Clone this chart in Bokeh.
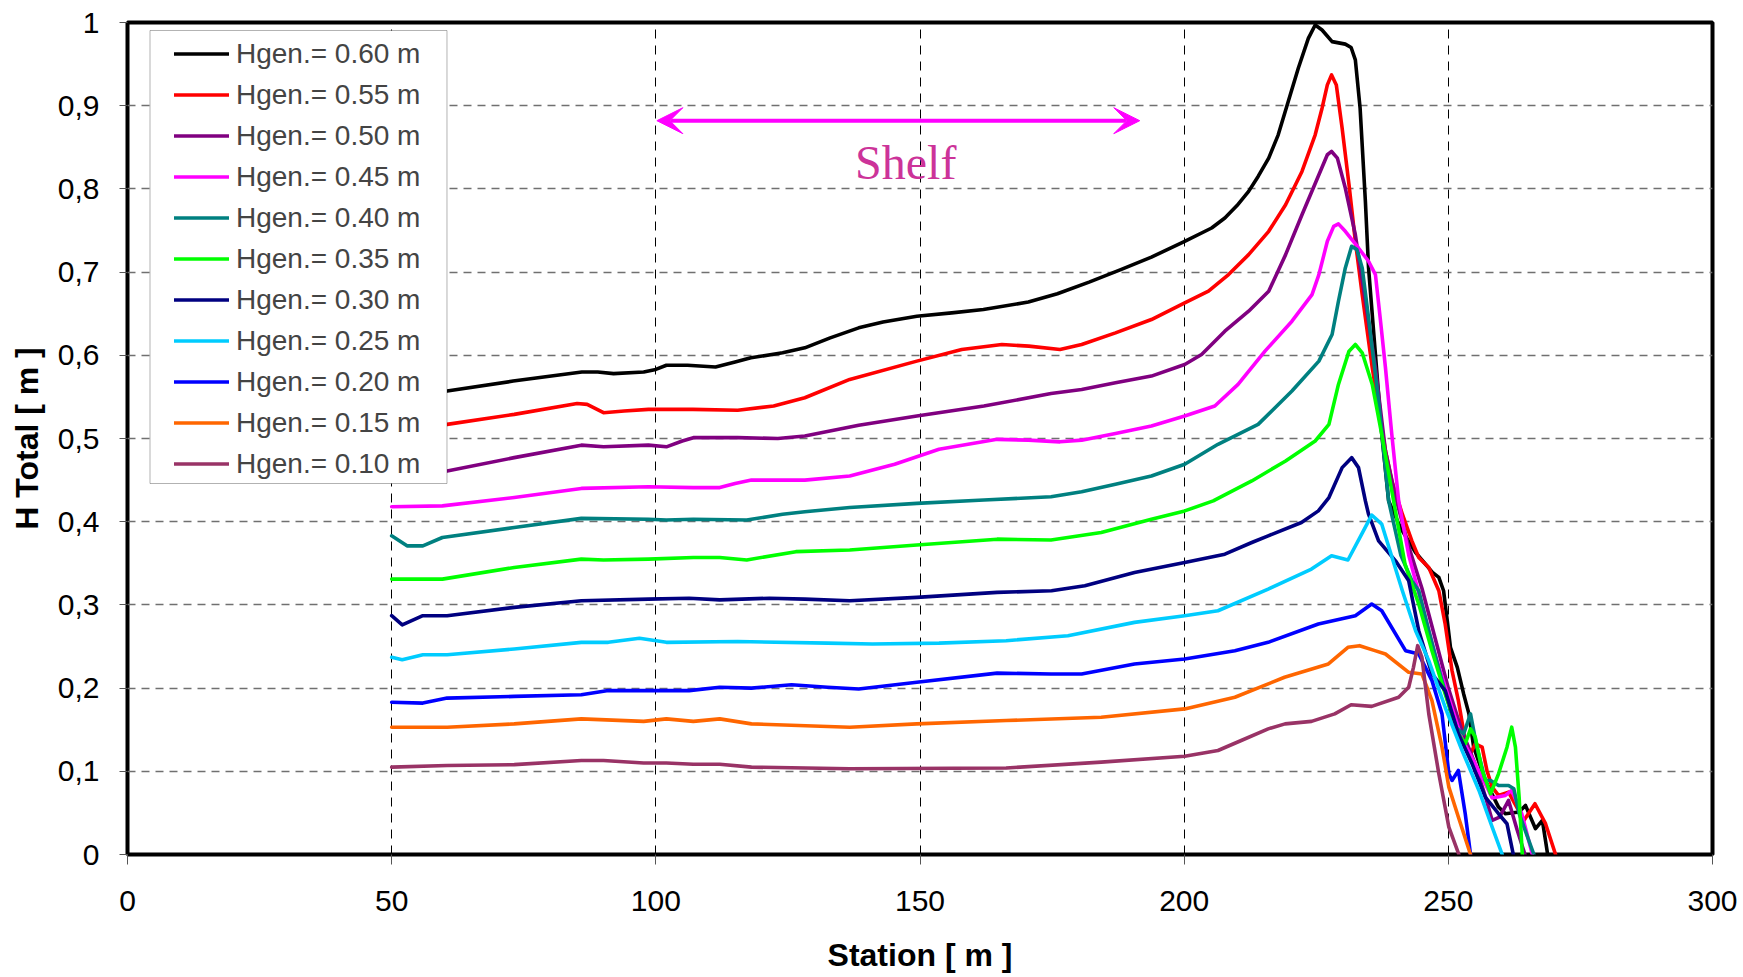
from bokeh.plotting import figure
from bokeh.models import (Range1d, FixedTicker, CustomJSTickFormatter, Legend, LegendItem,
                          Arrow, VeeHead, Label, BoxAnnotation)
from bokeh.embed import file_html
from bokeh.resources import INLINE

# ---- data: total wave height along the flume for each generated height ----
labels = ["Hgen.= 0.60 m", "Hgen.= 0.55 m", "Hgen.= 0.50 m", "Hgen.= 0.45 m",
          "Hgen.= 0.40 m", "Hgen.= 0.35 m", "Hgen.= 0.30 m", "Hgen.= 0.25 m",
          "Hgen.= 0.20 m", "Hgen.= 0.15 m", "Hgen.= 0.10 m"]
colors = ["#000000", "#FF0000", "#800080", "#FF00FF", "#008080", "#00FF00",
          "#000080", "#00CCFF", "#0000FF", "#FF6600", "#993366"]

st_060 = [50, 55, 60.5, 73, 86, 89, 92, 97.7, 100, 102, 106, 111.3, 115, 118, 124, 128.2, 133, 138.4,
          143, 149.4, 156, 162, 170.5, 176, 182, 188, 193.8, 200.1, 205.2, 207.7, 210, 212.2, 214, 216,
          217.8, 219.7, 221.6, 223.5, 224.8, 226.1, 228, 230.5, 231.6, 232.4, 233.3, 234.3, 234.9,
          235.9, 237.4, 238.7, 241, 243.8, 247, 248.2, 249.1, 249.8, 250.4, 251.7, 252.9, 253.9, 254.8,
          257, 259.5, 260.8, 263.4, 264.6, 266.5, 267.8, 268.8]
h_060 = [0.549, 0.553, 0.557, 0.569, 0.580, 0.580, 0.578, 0.580, 0.583, 0.588, 0.588, 0.586, 0.592,
         0.597, 0.603, 0.609, 0.621, 0.633, 0.640, 0.647, 0.651, 0.655, 0.664, 0.674, 0.688, 0.703,
         0.718, 0.737, 0.753, 0.765, 0.780, 0.797, 0.815, 0.837, 0.865, 0.905, 0.945, 0.981, 0.997,
         0.991, 0.977, 0.974, 0.970, 0.955, 0.897, 0.785, 0.705, 0.625, 0.505, 0.425, 0.392, 0.363,
         0.339, 0.333, 0.317, 0.281, 0.249, 0.225, 0.193, 0.169, 0.129, 0.089, 0.057, 0.049, 0.051,
         0.059, 0.031, 0.041, 0.0]

st_055 = [50, 55, 60.5, 73.2, 85.1, 87, 90.1, 94, 98.6, 107, 115.5, 122.3, 128.2, 136.7, 149.4, 157.9,
          165.5, 170.6, 176.5, 180.6, 187, 193.8, 200.1, 204.6, 208.4, 212.2, 216, 219.2, 222.3, 224.8,
          226.1, 227.1, 227.9, 228.8, 229.9, 231.2, 232.4, 233.7, 235.6, 238.1, 239.3, 241.3, 243.1,
          244.4, 246.3, 248.2, 249.4, 250.7, 251.9, 253.2, 254.2, 255.1, 256.4, 257.3, 258.3, 259.5,
          261.4, 264.3, 266.4, 268.4, 270.3]
h_055 = [0.508, 0.512, 0.517, 0.529, 0.542, 0.541, 0.531, 0.533, 0.535, 0.535, 0.534, 0.539, 0.549,
         0.571, 0.593, 0.607, 0.613, 0.611, 0.607, 0.613, 0.627, 0.643, 0.663, 0.677, 0.697, 0.721,
         0.749, 0.781, 0.821, 0.865, 0.897, 0.925, 0.937, 0.925, 0.873, 0.805, 0.737, 0.673, 0.585,
         0.485, 0.449, 0.409, 0.377, 0.357, 0.345, 0.317, 0.277, 0.221, 0.185, 0.137, 0.121, 0.133,
         0.129, 0.101, 0.081, 0.071, 0.075, 0.041, 0.061, 0.037, 0.0]

st_050 = [50, 55, 60.5, 73.2, 85.9, 90.1, 98.6, 102, 105, 107.1, 115.5, 123.1, 128.2, 138.4, 149.4,
          162.1, 174.8, 180.6, 187, 193.8, 200.1, 203.3, 207.7, 212.2, 216, 219.2, 222.3, 225.5, 227.1,
          227.9, 229, 230.5, 232.4, 234.3, 236.2, 238.1, 240, 242.5, 245, 247.5, 250, 252.5, 255, 257,
          258.3, 259.7, 261.4, 263, 264.5]
h_050 = [0.457, 0.458, 0.461, 0.477, 0.492, 0.490, 0.492, 0.490, 0.497, 0.501, 0.501, 0.500, 0.503,
         0.516, 0.527, 0.539, 0.554, 0.559, 0.567, 0.575, 0.589, 0.601, 0.629, 0.653, 0.677, 0.721,
         0.769, 0.817, 0.841, 0.845, 0.837, 0.801, 0.745, 0.665, 0.585, 0.485, 0.430, 0.370, 0.320,
         0.260, 0.200, 0.150, 0.110, 0.070, 0.041, 0.045, 0.065, 0.030, 0.0]

st_045 = [50, 59.6, 73.2, 85.9, 98.6, 107.1, 112.1, 115, 118.1, 128.2, 136.7, 145.2, 153.6, 164.6,
          170.5, 176.5, 180.6, 187, 193.8, 200.1, 205.8, 210.2, 215.3, 220.4, 224.2, 225.5, 227.1,
          228.3, 229.2, 230.5, 233, 234.9, 236.2, 237.1, 238.1, 239.3, 240.6, 242.5, 245, 247.5, 250,
          252.5, 255, 257, 258.3, 260.8, 262, 263.9, 265.9]
h_045 = [0.418, 0.419, 0.429, 0.440, 0.442, 0.441, 0.441, 0.446, 0.450, 0.450, 0.455, 0.469, 0.487,
         0.499, 0.498, 0.496, 0.498, 0.506, 0.515, 0.527, 0.539, 0.565, 0.605, 0.641, 0.673, 0.697,
         0.737, 0.755, 0.758, 0.749, 0.729, 0.713, 0.697, 0.645, 0.585, 0.505, 0.425, 0.360, 0.300,
         0.240, 0.190, 0.140, 0.110, 0.085, 0.068, 0.071, 0.077, 0.049, 0.0]

st_040 = [50, 52.9, 55.9, 59.6, 73.2, 85.9, 98.6, 102, 107.1, 117.2, 124, 128.2, 136.7, 149.4, 162.1,
          174.8, 180.6, 187, 193.8, 200.1, 206.4, 214, 220.4, 225.5, 228, 229.2, 230.5, 231.7, 232.7,
          233.7, 234.9, 236.8, 238.7, 241, 243.1, 244.4, 246.3, 248.8, 251.3, 252.9, 254.2, 255.4, 257,
          258, 259.5, 261.4, 262.4, 263.4, 266.2]
h_040 = [0.383, 0.371, 0.371, 0.381, 0.393, 0.404, 0.403, 0.402, 0.403, 0.402, 0.409, 0.412, 0.417,
         0.422, 0.426, 0.430, 0.436, 0.445, 0.455, 0.469, 0.493, 0.517, 0.557, 0.593, 0.625, 0.665,
         0.705, 0.731, 0.727, 0.705, 0.645, 0.545, 0.425, 0.360, 0.329, 0.317, 0.269, 0.209, 0.153,
         0.145, 0.169, 0.129, 0.089, 0.089, 0.083, 0.083, 0.079, 0.049, 0.0]

st_035 = [50, 59.6, 73.2, 85.9, 90.1, 98.6, 107.1, 112.1, 117.2, 126.5, 136.7, 149.4, 164.6, 174.8,
          184.3, 193.8, 200.1, 205.5, 212.8, 219.2, 224.8, 227.4, 229.2, 231.2, 232.4, 233.7, 235.6,
          237.4, 239.3, 241.8, 244.4, 246.9, 249.4, 251.9, 253.2, 254.2, 255.1, 256.4, 258, 259.5,
          261.1, 262, 262.7, 263.4, 264]
h_035 = [0.331, 0.331, 0.345, 0.355, 0.354, 0.355, 0.357, 0.357, 0.354, 0.364, 0.366, 0.372, 0.379,
         0.378, 0.387, 0.403, 0.413, 0.425, 0.449, 0.473, 0.497, 0.517, 0.565, 0.605, 0.613, 0.603,
         0.565, 0.505, 0.437, 0.349, 0.301, 0.245, 0.193, 0.145, 0.133, 0.151, 0.141, 0.101, 0.073,
         0.097, 0.129, 0.153, 0.129, 0.069, 0.0]

st_030 = [50, 52, 55.9, 60.5, 73.2, 85.9, 98.6, 106.3, 112.1, 121.5, 128.2, 136.7, 149.4, 164.6,
          174.9, 181.2, 190.6, 200.1, 207.7, 212.8, 215.9, 222.2, 225.4, 227.4, 229.9, 231.7, 233,
          234.3, 234.9, 236.8, 240, 242.5, 244.4, 246.9, 249.4, 251.9, 254.5, 257, 259.5, 261.1, 262.3]
h_030 = [0.287, 0.276, 0.287, 0.287, 0.297, 0.305, 0.307, 0.308, 0.306, 0.308, 0.307, 0.305, 0.309,
         0.315, 0.317, 0.323, 0.339, 0.351, 0.361, 0.375, 0.383, 0.399, 0.413, 0.429, 0.465, 0.477,
         0.465, 0.425, 0.409, 0.377, 0.353, 0.329, 0.269, 0.217, 0.197, 0.145, 0.109, 0.069, 0.049,
         0.037, 0.0]

st_025 = [50, 52, 55.9, 60.5, 73.2, 85.9, 91, 96.9, 102, 115.5, 132.5, 141, 153.6, 166.3, 178, 190.6,
          200.1, 206.4, 215.9, 224.1, 227.9, 231, 233.6, 235.5, 237.4, 241.3, 243.8, 246.3, 249.4,
          252.6, 255.8, 258.3, 260.2]
h_025 = [0.237, 0.234, 0.240, 0.240, 0.247, 0.255, 0.255, 0.260, 0.255, 0.256, 0.254, 0.253, 0.254,
         0.257, 0.263, 0.279, 0.287, 0.293, 0.319, 0.343, 0.359, 0.354, 0.385, 0.408, 0.397, 0.317,
         0.269, 0.233, 0.177, 0.125, 0.077, 0.033, 0.0]

st_020 = [50, 55.9, 60.5, 73.2, 85.9, 91, 106.3, 112.1, 118.1, 125.7, 132.5, 138.4, 149.4, 164.6,
          174.8, 180.6, 190.6, 200.1, 209.6, 215.9, 225.4, 232.4, 235.5, 237.4, 241.9, 244.4, 246.9,
          248.8, 250.1, 250.7, 251.9, 253.2, 254.2]
h_020 = [0.183, 0.182, 0.188, 0.190, 0.192, 0.197, 0.197, 0.201, 0.200, 0.204, 0.201, 0.199, 0.207,
         0.218, 0.217, 0.217, 0.229, 0.235, 0.245, 0.255, 0.277, 0.287, 0.301, 0.293, 0.245, 0.241,
         0.209, 0.169, 0.097, 0.089, 0.101, 0.049, 0.0]

st_015 = [50, 60.5, 73.2, 85.9, 97.7, 102, 107.1, 112.1, 118.1, 136.7, 149.4, 166.3, 184.3, 200.1,
          209.6, 219, 227.3, 231, 233.2, 236.1, 238.1, 242.5, 245, 246.9, 248.8, 250.1, 251.9, 254.2]
h_015 = [0.153, 0.153, 0.157, 0.163, 0.160, 0.163, 0.160, 0.163, 0.157, 0.153, 0.157, 0.161, 0.165,
         0.175, 0.189, 0.213, 0.229, 0.249, 0.251, 0.245, 0.241, 0.219, 0.217, 0.185, 0.129, 0.081,
         0.045, 0.0]

st_010 = [50, 60.5, 73.2, 85.9, 90.1, 97.7, 102, 107.1, 112.1, 118.1, 136.7, 166.3, 184.3, 200.1,
          206.4, 210.8, 215.9, 219.1, 224.1, 228.5, 231.6, 235.5, 240.6, 242.5, 243.4, 244.2, 245,
          246.3, 248.2, 250.1, 252]
h_010 = [0.105, 0.107, 0.108, 0.113, 0.113, 0.110, 0.110, 0.1085, 0.1085, 0.105, 0.103, 0.104, 0.111,
         0.118, 0.125, 0.137, 0.151, 0.157, 0.160, 0.169, 0.180, 0.178, 0.189, 0.201, 0.225, 0.251,
         0.237, 0.169, 0.097, 0.033, 0.0]

stations = [st_060, st_055, st_050, st_045, st_040, st_035, st_030, st_025, st_020, st_015, st_010]
heights = [h_060, h_055, h_050, h_045, h_040, h_035, h_030, h_025, h_020, h_015, h_010]

x_ticks = [0, 50, 100, 150, 200, 250, 300]
y_ticks = [0, 0.1, 0.2, 0.3, 0.4, 0.5, 0.6, 0.7, 0.8, 0.9, 1.0]

FONT = "Liberation Sans"

p = figure(width=1743, height=977, x_range=Range1d(0, 300), y_range=Range1d(0, 1),
           output_backend="svg", toolbar_location=None, title=None,
           min_border_left=127, min_border_right=31, min_border_top=22, min_border_bottom=123)

p.background_fill_color = "white"
p.border_fill_color = "white"
p.outline_line_color = "black"
p.outline_line_width = 4

# grid
p.xgrid.ticker = FixedTicker(ticks=x_ticks)
p.ygrid.ticker = FixedTicker(ticks=y_ticks)
p.xgrid.grid_line_color = "black"
p.xgrid.grid_line_dash = "9 7"
p.xgrid.grid_line_width = 1
p.ygrid.grid_line_color = "#707070"
p.ygrid.grid_line_dash = "8 6"
p.ygrid.grid_line_width = 1.3

# axes
for ax in (p.xaxis[0], p.yaxis[0]):
    ax.axis_line_color = None
    ax.major_tick_in = 0
    ax.minor_tick_line_color = None
    ax.major_tick_line_color = "#555555"
    ax.major_label_text_font = FONT
    ax.major_label_text_font_size = "30px"
    ax.major_label_text_color = "black"
    ax.axis_label_text_font = FONT
    ax.axis_label_text_font_size = "32px"
    ax.axis_label_text_font_style = "bold"
    ax.axis_label_text_color = "black"

p.xaxis.ticker = FixedTicker(ticks=x_ticks)
p.yaxis.ticker = FixedTicker(ticks=y_ticks)
p.xaxis.major_tick_out = 10
p.yaxis.major_tick_out = 8
p.xaxis.major_label_standoff = 26
p.yaxis.major_label_standoff = 20
p.yaxis.formatter = CustomJSTickFormatter(code="""
    if (Math.abs(tick) < 1e-9) return "0";
    if (Math.abs(tick - 1) < 1e-9) return "1";
    return tick.toFixed(1).replace(".", ",");
""")
p.xaxis.axis_label = "Station [ m ]"
p.yaxis.axis_label = "H Total [ m ]"
p.xaxis.axis_label_standoff = 23
p.yaxis.axis_label_standoff = 10

# curves
items = []
for lab, col, xs, ys in zip(labels, colors, stations, heights):
    r = p.line(xs, ys, line_color=col, line_width=3.6, line_join="round", line_cap="round")
    items.append(LegendItem(label=lab, renderers=[r]))

# legend frame
legend_box = BoxAnnotation(left=4.26, right=60.47, bottom=0.4459, top=0.9904,
                           fill_color="white", fill_alpha=1.0,
                           line_color="black", line_width=1)
p.add_layout(legend_box)

legend = Legend(items=items, location=(47, 370), padding=0, spacing=0, margin=0,
                label_height=41, glyph_height=41, glyph_width=55, label_standoff=7,
                label_text_font=FONT, label_text_font_size="28px",
                background_fill_alpha=0, border_line_alpha=0)
p.add_layout(legend, "center")

# shelf annotation
p.add_layout(Arrow(x_start=100.2, y_start=0.882, x_end=191.6, y_end=0.882,
                   line_color="#FF00FF", line_width=4,
                   start=VeeHead(size=26, fill_color="#FF00FF", line_color="#FF00FF"),
                   end=VeeHead(size=26, fill_color="#FF00FF", line_color="#FF00FF")))
p.add_layout(Label(x=147.3, y=0.832, text="Shelf", text_font="Liberation Serif",
                   text_font_size="48px", text_color="#CC3399",
                   text_align="center", text_baseline="alphabetic"))

open("out.html", "w").write(file_html(p, INLINE))
